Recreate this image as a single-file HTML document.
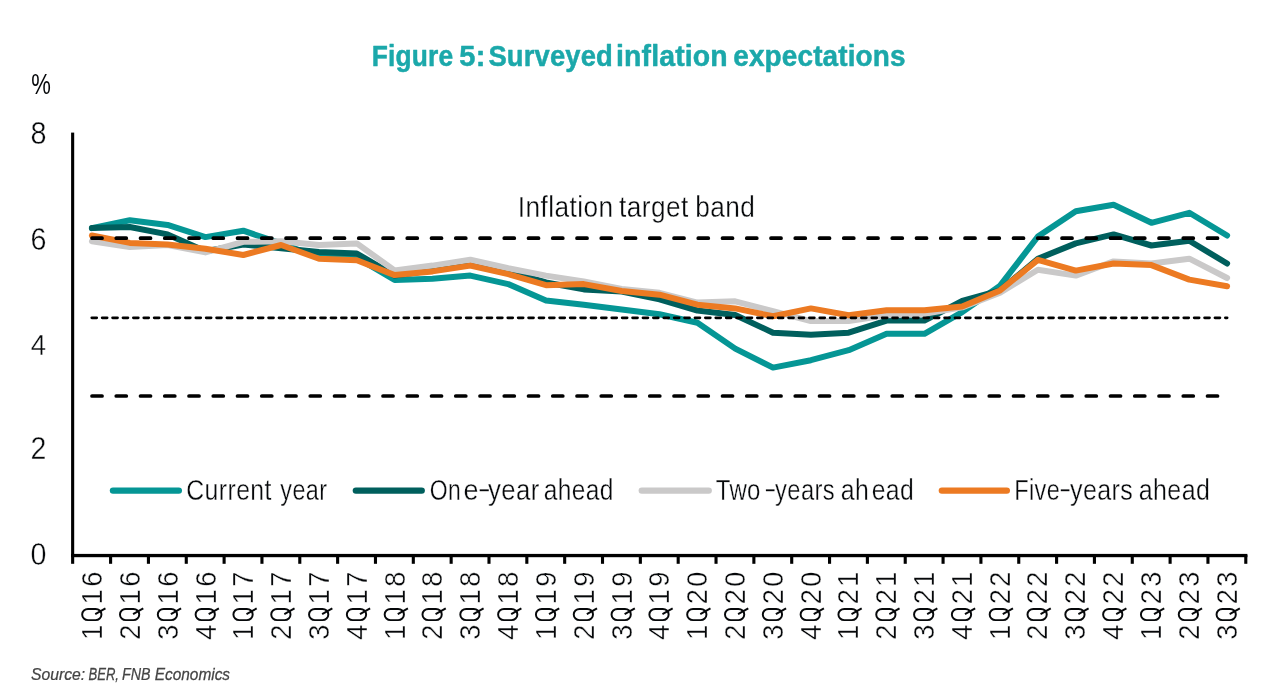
<!DOCTYPE html>
<html><head><meta charset="utf-8"><title>Figure 5: Surveyed inflation expectations</title>
<style>
html,body{margin:0;padding:0;background:#fff;}
body{width:1280px;height:700px;overflow:hidden;font-family:"Liberation Sans",sans-serif;}
svg{display:block;will-change:transform;}
text{font-family:"Liberation Sans",sans-serif;}
.t{fill:#06080a;stroke:#fff;stroke-width:0.4;}
.ax{font-size:30.2px;}
</style></head><body>
<svg width="1280" height="700" viewBox="0 0 1280 700">
<defs>
<g id="Q"><rect x="-5.6" y="-19.95" width="11.2" height="19.2" rx="5.4" ry="5.8" fill="none" stroke="#06080a" stroke-width="1.95"/><path d="M0.4,-6.9 L6.1,3.3" fill="none" stroke="#06080a" stroke-width="1.95" stroke-linecap="butt"/></g>
</defs>
<desc>Figure 5: Surveyed inflation expectations. Y axis in %, 0 to 8. Inflation target band (3 to 6, midpoint 4.5). Series: Current year, One-year ahead, Two-years ahead, Five-years ahead. Quarterly 1Q16 to 3Q23. Source: BER, FNB Economics</desc>
<rect width="1280" height="700" fill="#ffffff"/>

<text transform="translate(371.85,66.2) scale(0.8796,1)" font-size="30.0" letter-spacing="0.15" fill="#1BA8AA" font-weight="bold" stroke="#1BA8AA" stroke-width="0.5" stroke-linejoin="round">Figure</text>
<text transform="translate(459.35,66.2) scale(0.9684,1)" font-size="30.0" letter-spacing="0.15" fill="#1BA8AA" font-weight="bold" stroke="#1BA8AA" stroke-width="0.5" stroke-linejoin="round">5:</text>
<text transform="translate(488.45,66.2) scale(0.9133,1)" font-size="30.0" letter-spacing="0.15" fill="#1BA8AA" font-weight="bold" stroke="#1BA8AA" stroke-width="0.5" stroke-linejoin="round">Surveyed</text>
<text transform="translate(616.05,66.2) scale(0.9469,1)" font-size="30.0" letter-spacing="0.15" fill="#1BA8AA" font-weight="bold" stroke="#1BA8AA" stroke-width="0.5" stroke-linejoin="round">inflation</text>
<text transform="translate(733.2,66.2) scale(0.9317,1)" font-size="30.0" letter-spacing="0.15" fill="#1BA8AA" font-weight="bold" stroke="#1BA8AA" stroke-width="0.5" stroke-linejoin="round">expectations</text>
<text x="31.2" y="94.1" font-size="30.3" fill="#06080a" textLength="19.6" lengthAdjust="spacingAndGlyphs">%</text>
<text class="t" font-size="31.3" transform="translate(38.4,144.0) scale(0.92,1)" text-anchor="middle">8</text>
<text class="t" font-size="31.2" transform="translate(38.4,249.8) scale(0.92,1)" text-anchor="middle">6</text>
<text class="t" font-size="30.0" transform="translate(38.4,355.1) scale(0.92,1)" text-anchor="middle">4</text>
<text class="t" font-size="31.0" transform="translate(38.4,459.2) scale(0.92,1)" text-anchor="middle">2</text>
<text class="t" font-size="31.2" transform="translate(38.4,564.7) scale(0.92,1)" text-anchor="middle">0</text>
<polyline points="91.9,228.1 129.8,220.2 167.6,224.9 205.4,237.1 243.3,230.7 281.1,243.4 319.0,257.7 356.8,257.7 394.6,279.9 432.5,278.8 470.3,275.6 508.2,284.1 546.0,300.5 583.8,304.7 621.7,309.5 659.5,314.2 697.4,322.7 735.2,348.6 773.0,367.6 810.9,360.2 848.7,350.2 886.6,333.8 924.4,333.8 962.2,312.1 1000.1,285.7 1037.9,236.5 1075.8,211.2 1113.6,204.8 1151.4,222.8 1189.3,212.8 1227.1,235.5" fill="none" stroke="#059695" stroke-width="6.0" stroke-linecap="round" stroke-linejoin="round"/>
<polyline points="91.9,228.1 129.8,227.0 167.6,234.4 205.4,251.3 243.3,244.5 281.1,248.2 319.0,251.9 356.8,253.5 394.6,275.6 432.5,270.4 470.3,264.0 508.2,271.4 546.0,282.5 583.8,289.4 621.7,291.5 659.5,299.4 697.4,310.5 735.2,315.0 773.0,332.7 810.9,334.8 848.7,332.7 886.6,320.6 924.4,320.6 962.2,301.0 1000.1,290.4 1037.9,258.7 1075.8,243.4 1113.6,234.4 1151.4,245.5 1189.3,240.8 1227.1,263.5" fill="none" stroke="#005F5D" stroke-width="6.0" stroke-linecap="round" stroke-linejoin="round"/>
<polyline points="91.9,241.3 129.8,247.1 167.6,245.0 205.4,252.4 243.3,241.8 281.1,241.3 319.0,245.0 356.8,243.4 394.6,270.4 432.5,265.6 470.3,259.8 508.2,268.3 546.0,275.6 583.8,281.5 621.7,288.9 659.5,292.8 697.4,302.6 735.2,301.3 773.0,311.1 810.9,321.1 848.7,321.1 886.6,315.3 924.4,313.7 962.2,307.4 1000.1,292.6 1037.9,269.8 1075.8,275.6 1113.6,261.4 1151.4,263.5 1189.3,258.7 1227.1,278.0" fill="none" stroke="#CAC9C9" stroke-width="6.0" stroke-linecap="round" stroke-linejoin="round"/>
<polyline points="91.9,235.5 129.8,242.9 167.6,244.5 205.4,248.7 243.3,255.0 281.1,245.0 319.0,258.7 356.8,260.3 394.6,275.1 432.5,271.4 470.3,265.6 508.2,274.1 546.0,285.2 583.8,284.1 621.7,291.0 659.5,294.7 697.4,304.7 735.2,308.4 773.0,316.3 810.9,308.4 848.7,315.3 886.6,310.3 924.4,310.3 962.2,306.6 1000.1,290.4 1037.9,259.8 1075.8,270.6 1113.6,263.5 1151.4,265.1 1189.3,279.6 1227.1,286.2" fill="none" stroke="#EC7A22" stroke-width="6.0" stroke-linecap="round" stroke-linejoin="round"/>
<line x1="92.0" x2="1227.1" y1="238.2" y2="238.2" stroke="#000" stroke-width="3.7" stroke-dasharray="10.05 14.2" stroke-linecap="round"/>
<line x1="92.0" x2="1227.1" y1="396.0" y2="396.0" stroke="#000" stroke-width="3.7" stroke-dasharray="10.05 14.2" stroke-linecap="round"/>
<line x1="91.8" x2="1227.1" y1="317.85" y2="317.85" stroke="#000" stroke-width="2.8" stroke-dasharray="4.9 5.5" stroke-linecap="round"/>
<text transform="translate(517.7,216.7) scale(0.8815,1)" font-size="29.8" letter-spacing="0.5" fill="#06080a" stroke="#fff" stroke-width="0.35">Inflation</text>
<text transform="translate(619.0,216.7) scale(0.8815,1)" font-size="29.8" letter-spacing="0.5" fill="#06080a" stroke="#fff" stroke-width="0.35">target</text>
<text transform="translate(695.25,216.7) scale(0.8807,1)" font-size="29.8" letter-spacing="0.5" fill="#06080a" stroke="#fff" stroke-width="0.35">band</text>
<rect x="71.1" y="132.6" width="3.1" height="431.2" fill="#000"/>
<rect x="71.1" y="553.9" width="1176.3" height="3.3" fill="#000"/>
<rect x="109.04" y="555" width="3.1" height="8.8" fill="#000"/>
<rect x="146.88" y="555" width="3.1" height="8.8" fill="#000"/>
<rect x="184.72" y="555" width="3.1" height="8.8" fill="#000"/>
<rect x="222.56" y="555" width="3.1" height="8.8" fill="#000"/>
<rect x="260.40" y="555" width="3.1" height="8.8" fill="#000"/>
<rect x="298.24" y="555" width="3.1" height="8.8" fill="#000"/>
<rect x="336.08" y="555" width="3.1" height="8.8" fill="#000"/>
<rect x="373.92" y="555" width="3.1" height="8.8" fill="#000"/>
<rect x="411.76" y="555" width="3.1" height="8.8" fill="#000"/>
<rect x="449.60" y="555" width="3.1" height="8.8" fill="#000"/>
<rect x="487.44" y="555" width="3.1" height="8.8" fill="#000"/>
<rect x="525.28" y="555" width="3.1" height="8.8" fill="#000"/>
<rect x="563.12" y="555" width="3.1" height="8.8" fill="#000"/>
<rect x="600.96" y="555" width="3.1" height="8.8" fill="#000"/>
<rect x="638.80" y="555" width="3.1" height="8.8" fill="#000"/>
<rect x="676.64" y="555" width="3.1" height="8.8" fill="#000"/>
<rect x="714.48" y="555" width="3.1" height="8.8" fill="#000"/>
<rect x="752.32" y="555" width="3.1" height="8.8" fill="#000"/>
<rect x="790.16" y="555" width="3.1" height="8.8" fill="#000"/>
<rect x="828.00" y="555" width="3.1" height="8.8" fill="#000"/>
<rect x="865.84" y="555" width="3.1" height="8.8" fill="#000"/>
<rect x="903.68" y="555" width="3.1" height="8.8" fill="#000"/>
<rect x="941.52" y="555" width="3.1" height="8.8" fill="#000"/>
<rect x="979.36" y="555" width="3.1" height="8.8" fill="#000"/>
<rect x="1017.20" y="555" width="3.1" height="8.8" fill="#000"/>
<rect x="1055.04" y="555" width="3.1" height="8.8" fill="#000"/>
<rect x="1092.88" y="555" width="3.1" height="8.8" fill="#000"/>
<rect x="1130.72" y="555" width="3.1" height="8.8" fill="#000"/>
<rect x="1168.56" y="555" width="3.1" height="8.8" fill="#000"/>
<rect x="1206.40" y="555" width="3.1" height="8.8" fill="#000"/>
<rect x="1244.24" y="555" width="3.1" height="8.8" fill="#000"/>
<g transform="translate(91.80,0) rotate(-90)"><text class="t ax" transform="translate(-632.2,10.35) scale(0.9,1)" text-anchor="middle">1</text><use href="#Q" x="-614.5" y="10.35"/><text class="t ax" transform="translate(-596.8,10.35) scale(0.9,1)" text-anchor="middle">1</text><text class="t ax" transform="translate(-579.2,10.35) scale(0.9,1)" text-anchor="middle">6</text></g>
<g transform="translate(129.61,0) rotate(-90)"><text class="t ax" transform="translate(-632.2,10.35) scale(0.9,1)" text-anchor="middle">2</text><use href="#Q" x="-614.5" y="10.35"/><text class="t ax" transform="translate(-596.8,10.35) scale(0.9,1)" text-anchor="middle">1</text><text class="t ax" transform="translate(-579.2,10.35) scale(0.9,1)" text-anchor="middle">6</text></g>
<g transform="translate(167.43,0) rotate(-90)"><text class="t ax" transform="translate(-632.2,10.35) scale(0.9,1)" text-anchor="middle">3</text><use href="#Q" x="-614.5" y="10.35"/><text class="t ax" transform="translate(-596.8,10.35) scale(0.9,1)" text-anchor="middle">1</text><text class="t ax" transform="translate(-579.2,10.35) scale(0.9,1)" text-anchor="middle">6</text></g>
<g transform="translate(205.24,0) rotate(-90)"><text class="t ax" transform="translate(-632.2,10.35) scale(0.9,1)" text-anchor="middle">4</text><use href="#Q" x="-614.5" y="10.35"/><text class="t ax" transform="translate(-596.8,10.35) scale(0.9,1)" text-anchor="middle">1</text><text class="t ax" transform="translate(-579.2,10.35) scale(0.9,1)" text-anchor="middle">6</text></g>
<g transform="translate(243.05,0) rotate(-90)"><text class="t ax" transform="translate(-632.2,10.35) scale(0.9,1)" text-anchor="middle">1</text><use href="#Q" x="-614.5" y="10.35"/><text class="t ax" transform="translate(-596.8,10.35) scale(0.9,1)" text-anchor="middle">1</text><text class="t ax" transform="translate(-579.2,10.35) scale(0.9,1)" text-anchor="middle">7</text></g>
<g transform="translate(280.87,0) rotate(-90)"><text class="t ax" transform="translate(-632.2,10.35) scale(0.9,1)" text-anchor="middle">2</text><use href="#Q" x="-614.5" y="10.35"/><text class="t ax" transform="translate(-596.8,10.35) scale(0.9,1)" text-anchor="middle">1</text><text class="t ax" transform="translate(-579.2,10.35) scale(0.9,1)" text-anchor="middle">7</text></g>
<g transform="translate(318.68,0) rotate(-90)"><text class="t ax" transform="translate(-632.2,10.35) scale(0.9,1)" text-anchor="middle">3</text><use href="#Q" x="-614.5" y="10.35"/><text class="t ax" transform="translate(-596.8,10.35) scale(0.9,1)" text-anchor="middle">1</text><text class="t ax" transform="translate(-579.2,10.35) scale(0.9,1)" text-anchor="middle">7</text></g>
<g transform="translate(356.49,0) rotate(-90)"><text class="t ax" transform="translate(-632.2,10.35) scale(0.9,1)" text-anchor="middle">4</text><use href="#Q" x="-614.5" y="10.35"/><text class="t ax" transform="translate(-596.8,10.35) scale(0.9,1)" text-anchor="middle">1</text><text class="t ax" transform="translate(-579.2,10.35) scale(0.9,1)" text-anchor="middle">7</text></g>
<g transform="translate(394.30,0) rotate(-90)"><text class="t ax" transform="translate(-632.2,10.35) scale(0.9,1)" text-anchor="middle">1</text><use href="#Q" x="-614.5" y="10.35"/><text class="t ax" transform="translate(-596.8,10.35) scale(0.9,1)" text-anchor="middle">1</text><text class="t ax" transform="translate(-579.2,10.35) scale(0.9,1)" text-anchor="middle">8</text></g>
<g transform="translate(432.12,0) rotate(-90)"><text class="t ax" transform="translate(-632.2,10.35) scale(0.9,1)" text-anchor="middle">2</text><use href="#Q" x="-614.5" y="10.35"/><text class="t ax" transform="translate(-596.8,10.35) scale(0.9,1)" text-anchor="middle">1</text><text class="t ax" transform="translate(-579.2,10.35) scale(0.9,1)" text-anchor="middle">8</text></g>
<g transform="translate(469.93,0) rotate(-90)"><text class="t ax" transform="translate(-632.2,10.35) scale(0.9,1)" text-anchor="middle">3</text><use href="#Q" x="-614.5" y="10.35"/><text class="t ax" transform="translate(-596.8,10.35) scale(0.9,1)" text-anchor="middle">1</text><text class="t ax" transform="translate(-579.2,10.35) scale(0.9,1)" text-anchor="middle">8</text></g>
<g transform="translate(507.74,0) rotate(-90)"><text class="t ax" transform="translate(-632.2,10.35) scale(0.9,1)" text-anchor="middle">4</text><use href="#Q" x="-614.5" y="10.35"/><text class="t ax" transform="translate(-596.8,10.35) scale(0.9,1)" text-anchor="middle">1</text><text class="t ax" transform="translate(-579.2,10.35) scale(0.9,1)" text-anchor="middle">8</text></g>
<g transform="translate(545.56,0) rotate(-90)"><text class="t ax" transform="translate(-632.2,10.35) scale(0.9,1)" text-anchor="middle">1</text><use href="#Q" x="-614.5" y="10.35"/><text class="t ax" transform="translate(-596.8,10.35) scale(0.9,1)" text-anchor="middle">1</text><text class="t ax" transform="translate(-579.2,10.35) scale(0.9,1)" text-anchor="middle">9</text></g>
<g transform="translate(583.37,0) rotate(-90)"><text class="t ax" transform="translate(-632.2,10.35) scale(0.9,1)" text-anchor="middle">2</text><use href="#Q" x="-614.5" y="10.35"/><text class="t ax" transform="translate(-596.8,10.35) scale(0.9,1)" text-anchor="middle">1</text><text class="t ax" transform="translate(-579.2,10.35) scale(0.9,1)" text-anchor="middle">9</text></g>
<g transform="translate(621.18,0) rotate(-90)"><text class="t ax" transform="translate(-632.2,10.35) scale(0.9,1)" text-anchor="middle">3</text><use href="#Q" x="-614.5" y="10.35"/><text class="t ax" transform="translate(-596.8,10.35) scale(0.9,1)" text-anchor="middle">1</text><text class="t ax" transform="translate(-579.2,10.35) scale(0.9,1)" text-anchor="middle">9</text></g>
<g transform="translate(659.00,0) rotate(-90)"><text class="t ax" transform="translate(-632.2,10.35) scale(0.9,1)" text-anchor="middle">4</text><use href="#Q" x="-614.5" y="10.35"/><text class="t ax" transform="translate(-596.8,10.35) scale(0.9,1)" text-anchor="middle">1</text><text class="t ax" transform="translate(-579.2,10.35) scale(0.9,1)" text-anchor="middle">9</text></g>
<g transform="translate(696.81,0) rotate(-90)"><text class="t ax" transform="translate(-632.2,10.35) scale(0.9,1)" text-anchor="middle">1</text><use href="#Q" x="-614.5" y="10.35"/><text class="t ax" transform="translate(-596.8,10.35) scale(0.9,1)" text-anchor="middle">2</text><text class="t ax" transform="translate(-579.2,10.35) scale(0.9,1)" text-anchor="middle">0</text></g>
<g transform="translate(734.62,0) rotate(-90)"><text class="t ax" transform="translate(-632.2,10.35) scale(0.9,1)" text-anchor="middle">2</text><use href="#Q" x="-614.5" y="10.35"/><text class="t ax" transform="translate(-596.8,10.35) scale(0.9,1)" text-anchor="middle">2</text><text class="t ax" transform="translate(-579.2,10.35) scale(0.9,1)" text-anchor="middle">0</text></g>
<g transform="translate(772.43,0) rotate(-90)"><text class="t ax" transform="translate(-632.2,10.35) scale(0.9,1)" text-anchor="middle">3</text><use href="#Q" x="-614.5" y="10.35"/><text class="t ax" transform="translate(-596.8,10.35) scale(0.9,1)" text-anchor="middle">2</text><text class="t ax" transform="translate(-579.2,10.35) scale(0.9,1)" text-anchor="middle">0</text></g>
<g transform="translate(810.25,0) rotate(-90)"><text class="t ax" transform="translate(-632.2,10.35) scale(0.9,1)" text-anchor="middle">4</text><use href="#Q" x="-614.5" y="10.35"/><text class="t ax" transform="translate(-596.8,10.35) scale(0.9,1)" text-anchor="middle">2</text><text class="t ax" transform="translate(-579.2,10.35) scale(0.9,1)" text-anchor="middle">0</text></g>
<g transform="translate(848.06,0) rotate(-90)"><text class="t ax" transform="translate(-632.2,10.35) scale(0.9,1)" text-anchor="middle">1</text><use href="#Q" x="-614.5" y="10.35"/><text class="t ax" transform="translate(-596.8,10.35) scale(0.9,1)" text-anchor="middle">2</text><text class="t ax" transform="translate(-579.2,10.35) scale(0.9,1)" text-anchor="middle">1</text></g>
<g transform="translate(885.87,0) rotate(-90)"><text class="t ax" transform="translate(-632.2,10.35) scale(0.9,1)" text-anchor="middle">2</text><use href="#Q" x="-614.5" y="10.35"/><text class="t ax" transform="translate(-596.8,10.35) scale(0.9,1)" text-anchor="middle">2</text><text class="t ax" transform="translate(-579.2,10.35) scale(0.9,1)" text-anchor="middle">1</text></g>
<g transform="translate(923.69,0) rotate(-90)"><text class="t ax" transform="translate(-632.2,10.35) scale(0.9,1)" text-anchor="middle">3</text><use href="#Q" x="-614.5" y="10.35"/><text class="t ax" transform="translate(-596.8,10.35) scale(0.9,1)" text-anchor="middle">2</text><text class="t ax" transform="translate(-579.2,10.35) scale(0.9,1)" text-anchor="middle">1</text></g>
<g transform="translate(961.50,0) rotate(-90)"><text class="t ax" transform="translate(-632.2,10.35) scale(0.9,1)" text-anchor="middle">4</text><use href="#Q" x="-614.5" y="10.35"/><text class="t ax" transform="translate(-596.8,10.35) scale(0.9,1)" text-anchor="middle">2</text><text class="t ax" transform="translate(-579.2,10.35) scale(0.9,1)" text-anchor="middle">1</text></g>
<g transform="translate(999.31,0) rotate(-90)"><text class="t ax" transform="translate(-632.2,10.35) scale(0.9,1)" text-anchor="middle">1</text><use href="#Q" x="-614.5" y="10.35"/><text class="t ax" transform="translate(-596.8,10.35) scale(0.9,1)" text-anchor="middle">2</text><text class="t ax" transform="translate(-579.2,10.35) scale(0.9,1)" text-anchor="middle">2</text></g>
<g transform="translate(1037.12,0) rotate(-90)"><text class="t ax" transform="translate(-632.2,10.35) scale(0.9,1)" text-anchor="middle">2</text><use href="#Q" x="-614.5" y="10.35"/><text class="t ax" transform="translate(-596.8,10.35) scale(0.9,1)" text-anchor="middle">2</text><text class="t ax" transform="translate(-579.2,10.35) scale(0.9,1)" text-anchor="middle">2</text></g>
<g transform="translate(1074.94,0) rotate(-90)"><text class="t ax" transform="translate(-632.2,10.35) scale(0.9,1)" text-anchor="middle">3</text><use href="#Q" x="-614.5" y="10.35"/><text class="t ax" transform="translate(-596.8,10.35) scale(0.9,1)" text-anchor="middle">2</text><text class="t ax" transform="translate(-579.2,10.35) scale(0.9,1)" text-anchor="middle">2</text></g>
<g transform="translate(1112.75,0) rotate(-90)"><text class="t ax" transform="translate(-632.2,10.35) scale(0.9,1)" text-anchor="middle">4</text><use href="#Q" x="-614.5" y="10.35"/><text class="t ax" transform="translate(-596.8,10.35) scale(0.9,1)" text-anchor="middle">2</text><text class="t ax" transform="translate(-579.2,10.35) scale(0.9,1)" text-anchor="middle">2</text></g>
<g transform="translate(1150.56,0) rotate(-90)"><text class="t ax" transform="translate(-632.2,10.35) scale(0.9,1)" text-anchor="middle">1</text><use href="#Q" x="-614.5" y="10.35"/><text class="t ax" transform="translate(-596.8,10.35) scale(0.9,1)" text-anchor="middle">2</text><text class="t ax" transform="translate(-579.2,10.35) scale(0.9,1)" text-anchor="middle">3</text></g>
<g transform="translate(1188.38,0) rotate(-90)"><text class="t ax" transform="translate(-632.2,10.35) scale(0.9,1)" text-anchor="middle">2</text><use href="#Q" x="-614.5" y="10.35"/><text class="t ax" transform="translate(-596.8,10.35) scale(0.9,1)" text-anchor="middle">2</text><text class="t ax" transform="translate(-579.2,10.35) scale(0.9,1)" text-anchor="middle">3</text></g>
<g transform="translate(1226.19,0) rotate(-90)"><text class="t ax" transform="translate(-632.2,10.35) scale(0.9,1)" text-anchor="middle">3</text><use href="#Q" x="-614.5" y="10.35"/><text class="t ax" transform="translate(-596.8,10.35) scale(0.9,1)" text-anchor="middle">2</text><text class="t ax" transform="translate(-579.2,10.35) scale(0.9,1)" text-anchor="middle">3</text></g>
<line x1="113.0" x2="178.8" y1="490.6" y2="490.6" stroke="#059695" stroke-width="6.4" stroke-linecap="round"/>
<line x1="355.9" x2="421.7" y1="490.6" y2="490.6" stroke="#005F5D" stroke-width="6.4" stroke-linecap="round"/>
<line x1="641.8" x2="708.7" y1="490.6" y2="490.6" stroke="#CAC9C9" stroke-width="6.4" stroke-linecap="round"/>
<line x1="941.9" x2="1006.8" y1="490.6" y2="490.6" stroke="#EC7A22" stroke-width="6.4" stroke-linecap="round"/>
<text transform="translate(186.25,500.4) scale(0.8326,1)" font-size="29.8" letter-spacing="0.5" fill="#06080a" stroke="#fff" stroke-width="0.35">Current</text>
<text transform="translate(280.35,500.4) scale(0.7851,1)" font-size="29.8" letter-spacing="0.5" fill="#06080a" stroke="#fff" stroke-width="0.35">year</text>
<text transform="translate(429.65,500.4) scale(0.7711,1)" font-size="29.8" letter-spacing="0.5" fill="#06080a" stroke="#fff" stroke-width="0.35">On</text>
<text transform="translate(463.55,500.4) scale(0.9058,1)" font-size="29.8" letter-spacing="0.5" fill="#06080a" stroke="#fff" stroke-width="0.35">e</text>
<text transform="translate(488.05,500.4) scale(0.8636,1)" font-size="29.8" letter-spacing="0.5" fill="#06080a" stroke="#fff" stroke-width="0.35">year</text>
<text transform="translate(543.75,500.4) scale(0.8205,1)" font-size="29.8" letter-spacing="0.5" fill="#06080a" stroke="#fff" stroke-width="0.35">ahead</text>
<text transform="translate(715.65,500.4) scale(0.8058,1)" font-size="29.8" letter-spacing="0.5" fill="#06080a" stroke="#fff" stroke-width="0.35">Two</text>
<text transform="translate(775.05,500.4) scale(0.7975,1)" font-size="29.8" letter-spacing="0.5" fill="#06080a" stroke="#fff" stroke-width="0.35">years</text>
<text transform="translate(840.75,500.4) scale(0.8333,1)" font-size="29.8" letter-spacing="0.5" fill="#06080a" stroke="#fff" stroke-width="0.35">ah</text>
<text transform="translate(871.65,500.4) scale(0.8298,1)" font-size="29.8" letter-spacing="0.5" fill="#06080a" stroke="#fff" stroke-width="0.35">ead</text>
<text transform="translate(1014.25,500.4) scale(0.7894,1)" font-size="29.8" letter-spacing="0.5" fill="#06080a" stroke="#fff" stroke-width="0.35">Five</text>
<text transform="translate(1069.95,500.4) scale(0.8411,1)" font-size="29.8" letter-spacing="0.5" fill="#06080a" stroke="#fff" stroke-width="0.35">years</text>
<text transform="translate(1138.75,500.4) scale(0.8383,1)" font-size="29.8" letter-spacing="0.5" fill="#06080a" stroke="#fff" stroke-width="0.35">ahead</text>
<line x1="479.7" x2="488.75" y1="490.3" y2="490.3" stroke="#06080a" stroke-width="1.8"/>
<line x1="765.9" x2="774.5" y1="490.3" y2="490.3" stroke="#06080a" stroke-width="1.8"/>
<line x1="1060.8" x2="1069.4" y1="490.3" y2="490.3" stroke="#06080a" stroke-width="1.8"/>
<text transform="translate(31.05,679.7) scale(0.9359,1)" font-size="16.8" letter-spacing="0.0" fill="#444444" font-style="italic" stroke="#444444" stroke-width="0.25">Source:</text>
<text transform="translate(88.45,679.7) scale(0.7785,1)" font-size="16.8" letter-spacing="0.0" fill="#444444" font-style="italic" stroke="#444444" stroke-width="0.25">BER,</text>
<text transform="translate(122.05,679.7) scale(0.8485,1)" font-size="16.8" letter-spacing="0.0" fill="#444444" font-style="italic" stroke="#444444" stroke-width="0.25">FNB</text>
<text transform="translate(154.7,679.7) scale(0.9181,1)" font-size="16.8" letter-spacing="0.0" fill="#444444" font-style="italic" stroke="#444444" stroke-width="0.25">Economics</text>
</svg>
</body></html>
